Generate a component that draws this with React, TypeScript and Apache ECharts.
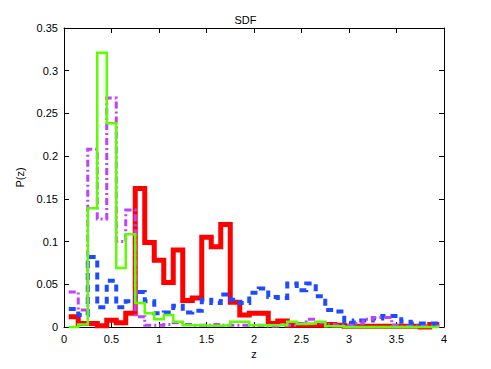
import React, { useEffect, useRef } from "react";
import * as echarts from "echarts";

const binCenters = [
  0.1, 0.2, 0.3, 0.4, 0.5, 0.6, 0.7, 0.8, 0.9, 1.0,
  1.1, 1.2, 1.3, 1.4, 1.5, 1.6, 1.7, 1.8, 1.9, 2.0,
  2.1, 2.2, 2.3, 2.4, 2.5, 2.6, 2.7, 2.8, 2.9, 3.0,
  3.1, 3.2, 3.3, 3.4, 3.5, 3.6, 3.7, 3.8, 3.9,
];
const binWidth = 0.1;

const redValues = [
  0.012, 0.004, 0.004, 0.0015, 0.008, 0.005, 0.016, 0.162, 0.099, 0.078,
  0.052, 0.09, 0.031, 0.034, 0.105, 0.094, 0.12, 0.029, 0.014, 0.016,
  0.016, 0.004, 0.007, 0.002, 0.002, 0.002, 0.002, 0.003, 0.002, 0.001,
  0.001, 0.001, 0.001, 0.001, 0.001, 0.001, 0.001, 0.0, 0.003,
];
const blueValues = [
  0.021, 0.014, 0.082, 0.023, 0.054, 0.023, 0.03, 0.041, 0.03, 0.016,
  0.017, 0.025, 0.017, 0.019, 0.032, 0.028, 0.038, 0.032, 0.028, 0.04,
  0.045, 0.035, 0.034, 0.051, 0.043, 0.051, 0.036, 0.02, 0.018, 0.005,
  0.0075, 0.0075, 0.01, 0.013, 0.013, 0.006, 0.004, 0.004, 0.004,
];
const magentaValues = [
  0.041, 0.02, 0.208, 0.1265, 0.268, 0.1, 0.137, 0.012, 0.002, 0.002,
  0.003, 0.005, 0.003, 0.002, 0.002, 0.003, 0.002, 0.002, 0.002, 0.002,
  0.002, 0.001, 0.003, 0.002, 0.004, 0.009, 0.005, 0.003, 0.002, 0.002,
  0.004, 0.009, 0.011, 0.011, 0.002, 0.001, 0.001, 0.001, 0.001,
];
const greenValues = [
  0.0, 0.003, 0.139, 0.321, 0.2385, 0.069, 0.1085, 0.028, 0.016, 0.009,
  0.014, 0.006, 0.002, 0.002, 0.0015, 0.0015, 0.002, 0.006, 0.006, 0.002,
  0.002, 0.002, 0.002, 0.006, 0.0035, 0.004, 0.006, 0.001, 0.001, 0.0,
  0.0, 0.0, 0.0, 0.0, 0.0, 0.0, 0.0, 0.0, 0.0,
];

const xTicks = { min: 0, max: 4, interval: 0.5 };
const yTicks = { min: 0, max: 0.35, interval: 0.05 };

function stairs(values: number[]) {
  const pts: [number, number][] = binCenters.map((c, i) => [c - binWidth / 2, values[i]]);
  const lastC = binCenters[binCenters.length - 1];
  pts.push([lastC + binWidth / 2, values[values.length - 1]]);
  return pts;
}

const FONT = "'Liberation Sans', Arial, Helvetica, sans-serif";

export default function App() {
  const ref = useRef<HTMLDivElement>(null);
  useEffect(() => {
    if (!ref.current) return;
    const chart = echarts.init(ref.current, undefined, { renderer: "svg" });
    const axisLine = { show: true, onZero: false, lineStyle: { color: "#000", width: 1 } };
    const tick = { show: true, inside: true, length: 5, lineStyle: { color: "#000", width: 1 } };
    const label = { color: "#000", fontSize: 11, fontFamily: FONT };
    const fmt = (v: number) => String(parseFloat(v.toFixed(2)));
    const mk = (name: string, data: number[], color: string, width: number, type: any) => ({
      name,
      type: "line",
      step: "end",
      data: stairs(data),
      showSymbol: false,
      symbol: "none",
      clip: false,
      lineStyle: { color, width, type, cap: "butt", join: "miter" },
      xAxisIndex: 0,
      yAxisIndex: 0,
    });
    chart.setOption({
      animation: false,
      backgroundColor: "#fff",
      title: {
        text: "SDF",
        left: "center",
        top: 9,
        textStyle: { fontSize: 11, fontWeight: "normal", color: "#000", fontFamily: FONT },
      },
      grid: { left: 64, right: 47, top: 28, bottom: 42, containLabel: false },
      xAxis: [
        {
          type: "value",
          ...xTicks,
          name: "z",
          nameLocation: "middle",
          nameGap: 15,
          nameTextStyle: { fontSize: 11, color: "#000", fontFamily: FONT },
          axisLine,
          axisTick: tick,
          axisLabel: { ...label, margin: 6, formatter: fmt },
          splitLine: { show: false },
          z: 1,
        },
        {
          type: "value",
          ...xTicks,
          position: "top",
          axisLine,
          axisTick: tick,
          axisLabel: { show: false },
          splitLine: { show: false },
        },
      ],
      yAxis: [
        {
          type: "value",
          ...yTicks,
          name: "P(z)",
          nameLocation: "middle",
          nameGap: 38,
          nameRotate: 90,
          nameTextStyle: { fontSize: 11, color: "#000", fontFamily: FONT },
          axisLine,
          axisTick: tick,
          axisLabel: { ...label, margin: 6, formatter: fmt },
          splitLine: { show: false },
        },
        {
          type: "value",
          ...yTicks,
          position: "right",
          axisLine,
          axisTick: tick,
          axisLabel: { show: false },
          splitLine: { show: false },
        },
      ],
      series: [
        mk("red", redValues, "#ff0000", 5, "solid"),
        mk("blue", blueValues, "#1f4bff", 4, [7, 5]),
        mk("magenta", magentaValues, "#c040ff", 3, [7, 3, 2, 3]),
        mk("green", greenValues, "#5cff00", 2.5, "solid"),
      ],
    });
    return () => chart.dispose();
  }, []);
  return (
    <div
      ref={ref}
      style={{ position: "fixed", left: 0, top: 0, width: 491, height: 369, background: "#fff" }}
    />
  );
}
